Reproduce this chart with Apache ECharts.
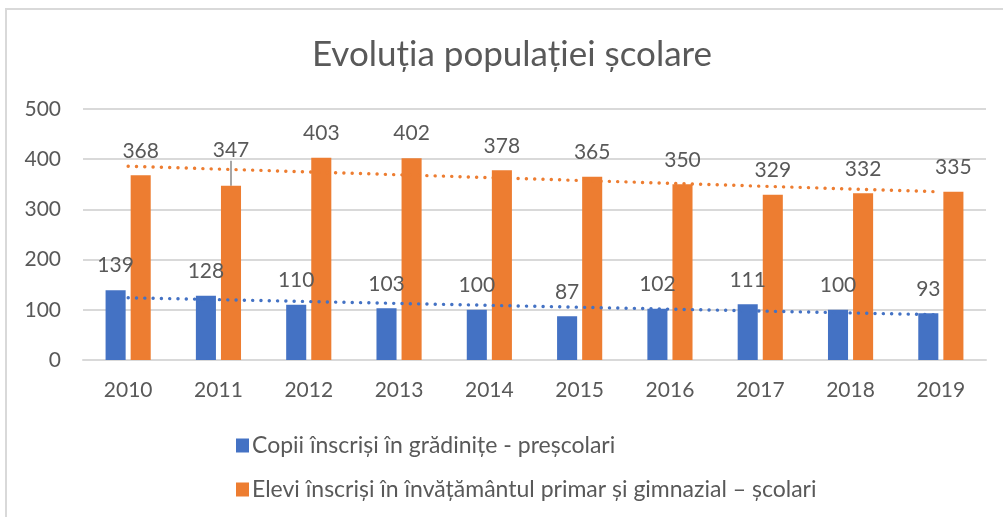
<!DOCTYPE html>
<html>
<head>
<meta charset="utf-8">
<script src="https://cdn.jsdelivr.net/npm/echarts@6/dist/echarts.min.js"></script>
<style>
  html, body { margin: 0; padding: 0; background: #fff; }
  #chart { width: 1003px; height: 517px; }
</style>
</head>
<body>
<div id="chart"></div>
<script>
// date
const years = ["2010", "2011", "2012", "2013", "2014", "2015", "2016", "2017", "2018", "2019"];
const prescolari = [139, 128, 110, 103, 100, 87, 102, 111, 100, 93];
const scolari = [368, 347, 403, 402, 378, 365, 350, 329, 332, 335];
// capetele liniilor de tendinta
const trendPrescolari = [["2010", 124], ["2019", 90]];
const trendScolari = [["2010", 386], ["2019", 335]];

const numePrescolari = "Copii înscriși în grădinițe - preșcolari";
const numeScolari = "Elevi înscriși în învățământul primar și gimnazial – școlari";

const font = "Lato";
const grey = "#595959";

const myChart = echarts.init(document.getElementById("chart"));

const dotted = (color) => ({
  type: "line",
  data: [],
  symbol: "none",
  silent: true,
  z: 5,
  lineStyle: { color: color, width: 3.4, type: [0.1, 8.2], cap: "round" },
});

const option = {
  animation: false,
  textStyle: { fontFamily: font },
  title: {
    text: "Evoluția populației școlare",
    left: 507,
    textAlign: "center",
    top: 32,
    textStyle: { fontFamily: font, fontSize: 35, fontWeight: "normal", color: grey },
  },
  graphic: [
    {
      type: "rect",
      shape: { x: 6, y: 9, width: 1010, height: 520 },
      style: { fill: "none", stroke: "#d9d9d9", lineWidth: 2 },
      silent: true,
    },
  ],
  legend: {
    orient: "vertical",
    left: 231,
    top: 429,
    itemWidth: 13,
    itemHeight: 14,
    itemGap: 21,
    icon: "rect",
    data: [numePrescolari, numeScolari],
    textStyle: { fontFamily: font, fontSize: 23, color: grey, padding: [0, 0, 0, -2] },
  },
  grid: { left: 83, right: 17, top: 109, bottom: 157 },
  xAxis: {
    type: "category",
    data: years,
    axisTick: { show: false },
    axisLine: { lineStyle: { color: "#d9d9d9", width: 2 } },
    axisLabel: { fontSize: 21, color: grey, margin: 20 },
  },
  yAxis: {
    type: "value",
    min: 0,
    max: 500,
    interval: 100,
    axisLabel: { fontSize: 21, color: grey, margin: 22 },
    splitLine: { lineStyle: { color: "#d9d9d9", width: 2 } },
  },
  series: [
    {
      name: numePrescolari,
      type: "bar",
      data: prescolari,
      barGap: "25%",
      barCategoryGap: "50%",
      itemStyle: { color: "#4472C4" },
      label: { show: true, position: "top", distance: 14, fontSize: 21, color: grey },
    },
    {
      name: numeScolari,
      type: "bar",
      data: scolari.map((v, i) =>
        i === 1 ? { value: v, labelLine: { show: true } } : v
      ),
      itemStyle: { color: "#ED7D31" },
      label: { show: true, position: "top", distance: 14, fontSize: 21, color: grey },
      labelLine: { show: false, lineStyle: { color: "#a6a6a6", width: 2 } },
    },
    Object.assign(dotted("#4472C4"), { data: trendPrescolari }),
    Object.assign(dotted("#ED7D31"), { data: trendScolari }),
  ],
  // eticheta 347 a fost mutata mai sus in original, cu linie de legatura
  labelLayout: (params) => {
    if (params.seriesIndex === 1 && params.dataIndex === 1) {
      return { dy: -11 };
    }
  },
};

myChart.setOption(option);
window.onresize = () => {
  myChart.resize();
};
</script>
</body>
</html>
